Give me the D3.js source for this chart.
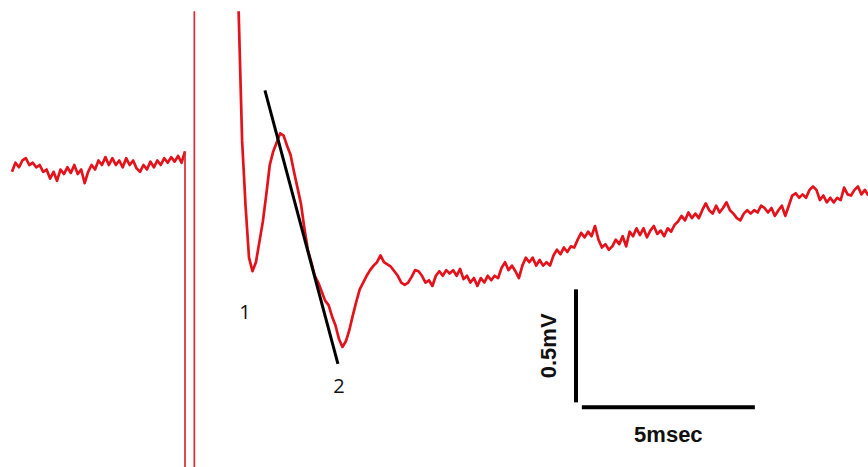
<!DOCTYPE html>
<html>
<head>
<meta charset="utf-8">
<script src="https://cdn.jsdelivr.net/npm/d3@7"></script>
<style>
  html, body { margin: 0; padding: 0; background: #ffffff; }
  svg { display: block; }
</style>
</head>
<body>
<div id="trace-chart"></div>
<script>
// ---- data (time in ms, voltage in mV, sampled every 0.1 ms) ----
const dt = 0.1;

// baseline before the stimulus
const preStart = 0;
const preValues = [
  -0.03, 0.01, -0.01, 0.02, 0.03, 0.00, 0.01, -0.01, 0.00, -0.03,
  -0.02, -0.06, -0.03, -0.07, -0.02, -0.04, -0.01, -0.035, 0.00, -0.04,
  -0.02, -0.08, -0.03, 0.00, -0.02, 0.02, 0.00, 0.035, 0.00, 0.03,
  0.00, 0.02, -0.01, 0.03, 0.00, 0.02, -0.015, -0.03, 0.00, -0.02,
  0.015, -0.01, 0.02, 0.00, 0.03, 0.01, 0.035, 0.015, 0.04, 0.01,
  0.06
];

// stimulus artifact lines (time, top value)
const artifactTimes = [5.0, 5.27];
const artifactTops = [0.06, 0.68];

// response after the stimulus
const postStart = 6.55;
const postValues = [
  0.68, 0.11, -0.18, -0.41, -0.47, -0.43, -0.34, -0.25, -0.13, 0.00,
  0.06, 0.10, 0.14, 0.13, 0.085, 0.045, -0.03, -0.10, -0.17, -0.28,
  -0.375, -0.43, -0.49, -0.52, -0.56, -0.60, -0.62, -0.67, -0.71, -0.77,
  -0.805, -0.78, -0.73, -0.665, -0.605, -0.55, -0.52, -0.49, -0.465, -0.445,
  -0.43, -0.40, -0.43, -0.44, -0.45, -0.47, -0.49, -0.52, -0.53, -0.52,
  -0.495, -0.465, -0.47, -0.49, -0.52, -0.51, -0.535, -0.49, -0.47, -0.49,
  -0.465, -0.48, -0.465, -0.49, -0.46, -0.505, -0.49, -0.52, -0.50, -0.535,
  -0.50, -0.52, -0.49, -0.51, -0.49, -0.50, -0.455, -0.43, -0.465, -0.445,
  -0.47, -0.50, -0.445, -0.41, -0.43, -0.41, -0.445, -0.42, -0.445, -0.43,
  -0.445, -0.40, -0.375, -0.395, -0.365, -0.385, -0.36, -0.365, -0.33, -0.30,
  -0.32, -0.295, -0.315, -0.27, -0.33, -0.365, -0.35, -0.375, -0.36, -0.33,
  -0.35, -0.315, -0.36, -0.295, -0.315, -0.28, -0.31, -0.28, -0.32, -0.29,
  -0.27, -0.305, -0.29, -0.315, -0.28, -0.295, -0.265, -0.25, -0.225, -0.245,
  -0.21, -0.235, -0.215, -0.235, -0.20, -0.17, -0.20, -0.215, -0.18, -0.21,
  -0.19, -0.165, -0.20, -0.215, -0.235, -0.245, -0.215, -0.20, -0.215, -0.20,
  -0.21, -0.18, -0.19, -0.21, -0.19, -0.225, -0.20, -0.18, -0.225, -0.18,
  -0.135, -0.125, -0.145, -0.13, -0.145, -0.11, -0.095, -0.11, -0.155, -0.135,
  -0.165, -0.145, -0.165, -0.145, -0.155, -0.10, -0.13, -0.135, -0.11, -0.095,
  -0.13, -0.11, -0.135
];

// fitted slope line and peak labels
const slopeTimes = [7.31, 9.42];
const slopeValues = [0.33, -0.88];
const peakLabels = ["1", "2"];
const peakTimes = [6.73, 9.45];
const peakValues = [-0.68, -1.01];

// calibration bar
const barMs = 5;
const barMv = 0.5;
const barLabels = ["5msec", "0.5mV"];

(() => {
  const width = 868;
  const height = 467;

  const svg = d3.select("#trace-chart").append("svg")
    .attr("width", width)
    .attr("height", height);

  svg.append("rect")
    .attr("width", width)
    .attr("height", height)
    .attr("fill", "#ffffff");

  // ------------------
  // Scales (34.6 px per ms, 226 px per mV)
  // ------------------
  const xScale = d3.scaleLinear()
    .domain([-0.347, 24.74])
    .range([0, width]);

  const yScale = d3.scaleLinear()
    .domain([0.730, -1.336])
    .range([0, height]);

  const toPoints = (start, values) =>
    values.map((v, i) => ({ t: start + i * dt, v }));

  const line = d3.line()
    .x(d => xScale(d.t))
    .y(d => yScale(d.v));

  const red = "#e3121b";

  // ------------------
  // Trace
  // ------------------
  svg.append("path")
    .datum(toPoints(preStart, preValues))
    .attr("d", line)
    .attr("fill", "none")
    .attr("stroke", red)
    .attr("stroke-width", 2.7)
    .attr("stroke-linejoin", "round");

  svg.selectAll(".artifact")
    .data(artifactTimes)
    .enter()
    .append("line")
    .attr("class", "artifact")
    .attr("x1", d => xScale(d))
    .attr("x2", d => xScale(d))
    .attr("y1", (d, i) => yScale(artifactTops[i]))
    .attr("y2", height + 2)
    .attr("stroke", "#dc2a2e")
    .attr("stroke-width", 1.7);

  svg.append("path")
    .datum(toPoints(postStart, postValues))
    .attr("d", line)
    .attr("fill", "none")
    .attr("stroke", red)
    .attr("stroke-width", 2.7)
    .attr("stroke-linejoin", "round");

  // ------------------
  // Slope line + labels
  // ------------------
  svg.append("line")
    .attr("x1", xScale(slopeTimes[0]))
    .attr("y1", yScale(slopeValues[0]))
    .attr("x2", xScale(slopeTimes[1]))
    .attr("y2", yScale(slopeValues[1]))
    .attr("stroke", "#000000")
    .attr("stroke-width", 3);

  svg.selectAll(".peak-label")
    .data(peakLabels)
    .enter()
    .append("text")
    .attr("class", "peak-label")
    .attr("x", (d, i) => xScale(peakTimes[i]))
    .attr("y", (d, i) => yScale(peakValues[i]))
    .attr("text-anchor", "middle")
    .attr("font-family", "'Open Sans', sans-serif")
    .attr("font-size", 20)
    .attr("fill", "#111111")
    .text(d => d);

  // ------------------
  // Calibration bars
  // ------------------
  const barT0 = 16.3;
  const barV0 = -1.05;

  svg.append("line")
    .attr("x1", xScale(barT0))
    .attr("x2", xScale(barT0))
    .attr("y1", yScale(barV0))
    .attr("y2", yScale(barV0 + barMv))
    .attr("stroke", "#000000")
    .attr("stroke-width", 4);

  svg.append("line")
    .attr("x1", xScale(barT0 + 0.17))
    .attr("x2", xScale(barT0 + 0.17 + barMs))
    .attr("y1", yScale(barV0) + 5)
    .attr("y2", yScale(barV0) + 5)
    .attr("stroke", "#000000")
    .attr("stroke-width", 4);

  svg.append("text")
    .attr("x", xScale(barT0 + 0.17 + barMs / 2))
    .attr("y", yScale(barV0) + 40)
    .attr("text-anchor", "middle")
    .attr("font-family", "'Liberation Sans', Arial, sans-serif")
    .attr("font-weight", "bold")
    .attr("font-size", 22)
    .attr("fill", "#111111")
    .text(barLabels[0]);

  const mvX = xScale(barT0) - 28;
  const mvY = yScale(barV0 + barMv / 2);
  svg.append("text")
    .attr("transform", `translate(${mvX},${mvY}) rotate(-90)`)
    .attr("text-anchor", "middle")
    .attr("dy", "0.35em")
    .attr("font-family", "'Liberation Sans', Arial, sans-serif")
    .attr("font-weight", "bold")
    .attr("font-size", 22)
    .attr("fill", "#111111")
    .text(barLabels[1]);
})();
</script>
</body>
</html>
